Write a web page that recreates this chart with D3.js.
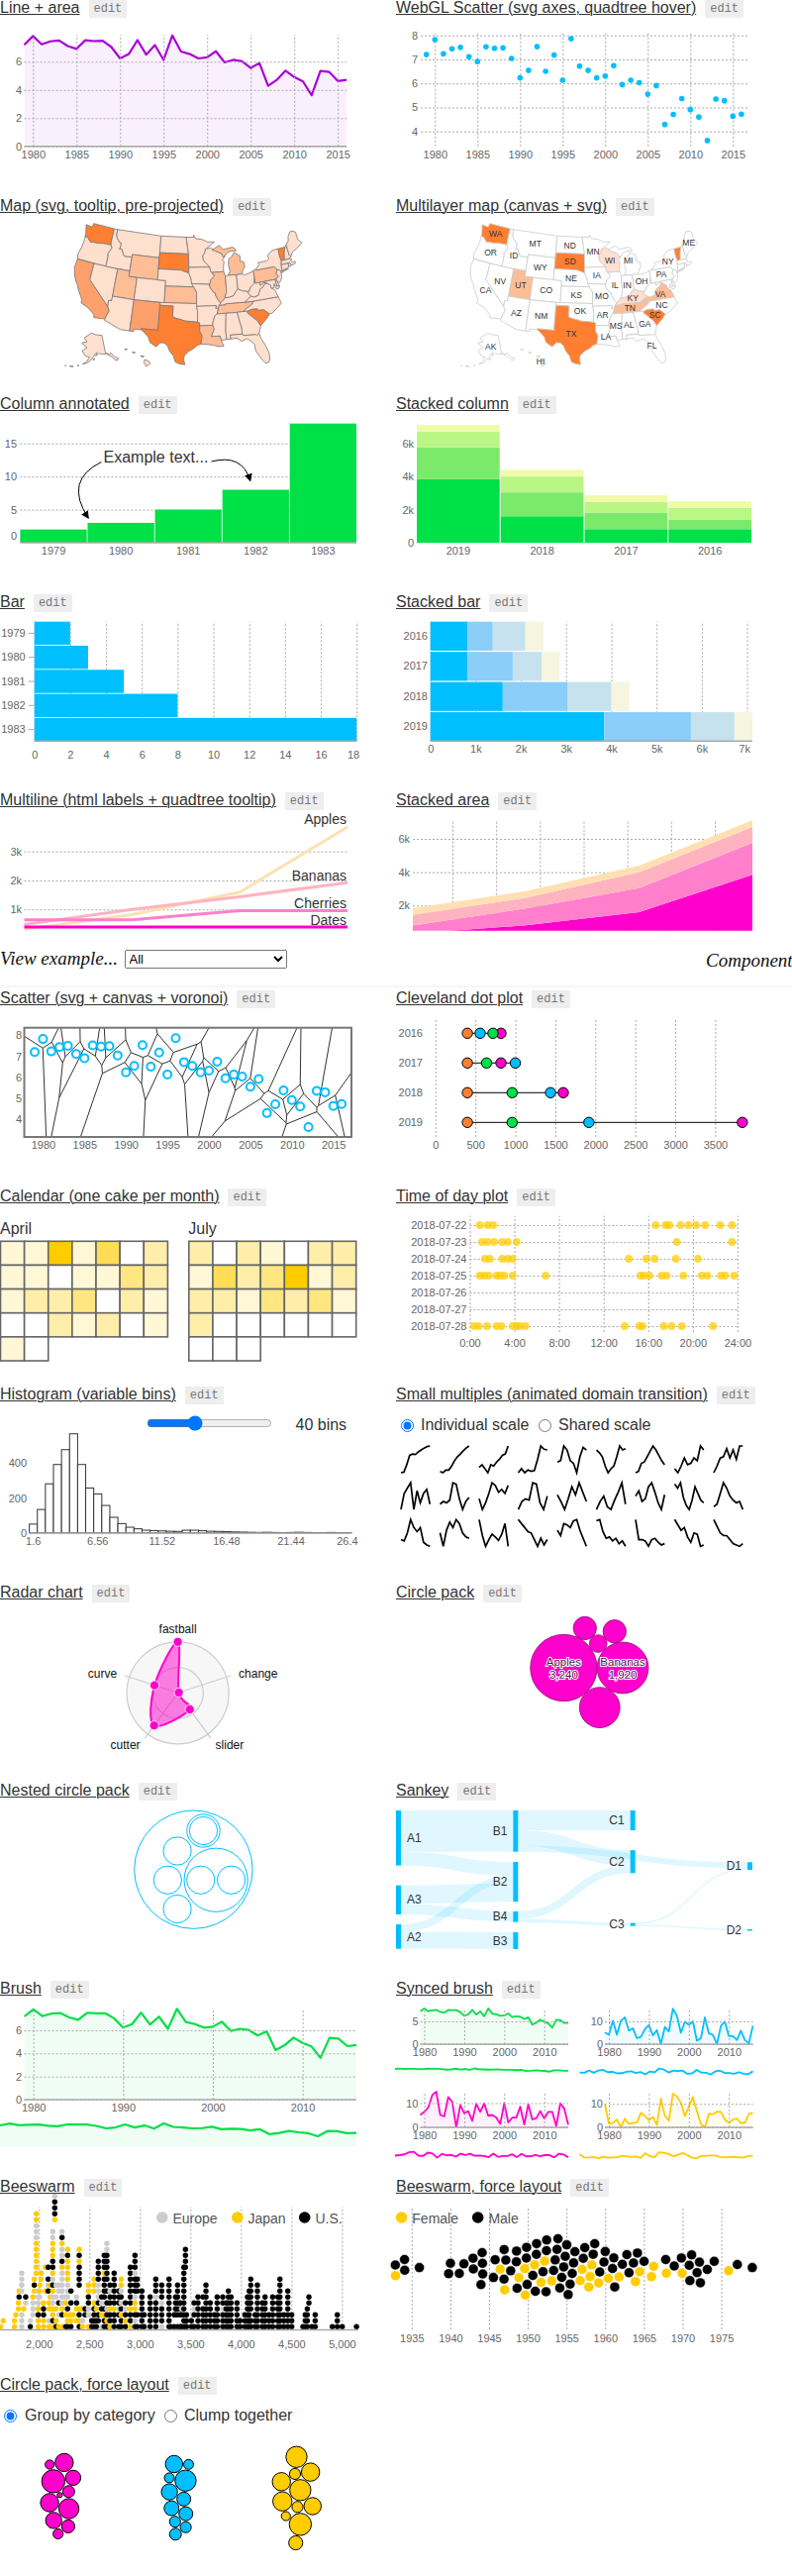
<!DOCTYPE html>
<html>
<head>
<meta charset="utf-8">
<script src="https://cdn.jsdelivr.net/npm/d3@7"></script>
<style>
  html, body { margin: 0; padding: 0; background: #fff; overflow: hidden; }
  body { position: relative; width: 800px; height: 2601px; font-family: "Liberation Sans", sans-serif; color: #333; }
  svg { position: absolute; left: 0; top: 0; }
  .title { position: absolute; font-size: 16px; line-height: 18px; white-space: nowrap; color: #333; }
  .title u { text-decoration-thickness: 1px; }
  .edit { display: inline-block; position: relative; top: 1px; margin-left: 9px; padding: 0 5px; background: #eee; color: #777; font: 12px/18px "Liberation Mono", monospace; vertical-align: top; }
  .label { position: absolute; font-size: 16px; line-height: 18px; white-space: nowrap; color: #333; }
  .script { position: absolute; font: italic 19px/24px "Liberation Serif", serif; color: #111; white-space: nowrap; }
  input[type=radio] { position: absolute; margin: 0; }
  .axis text { font: 11px "Liberation Sans", sans-serif; fill: #666; }
  .axis line { stroke: #aaa; stroke-dasharray: 2; }
  .ylab line { stroke-dasharray: none; }
  .legend { font: 14px "Liberation Sans", sans-serif; fill: #555; }
</style>
</head>
<body>
<script>
// --- data ---
var years = d3.range(1979, 2017);
var arcticValues = [7.2,7.82,7.23,7.44,7.5,7.11,6.91,7.52,7.46,7.48,7.04,6.23,6.54,7.53,6.5,7.18,6.13,7.86,6.72,6.54,6.23,6.31,6.74,5.95,6.13,6.03,5.55,5.91,4.29,4.71,5.37,4.91,4.6,3.62,5.35,5.28,4.63,4.72];
var blueValues = [5.1,4.1,10.3,4.1,10.3,11.8,5.9,7,2.6,3.2,6.6,8.4,3.8,6.2,0,7.6,5.6,15.6,12.5,5,9.9,8.5,10,1.5,2.6,11.8,4.7,4.1,0,8,9.9,3.5,3.5,1.8,5.9,1.8,0.4,8.1];
var magentaValues = [5.1,6.4,8.2,13.3,14.7,5.1,4.5,12.5,10.5,0,9.2,5.8,6.7,2.7,9.7,6.4,9.9,4.8,5.1,4.1,1.4,10,2,4,4,8.5,1.2,9.5,3.3,3.7,6.7,3.6,6.4,6.4,0.5,9.9,7.7,1.1];
var yellowValues = [10,1.6,1.9,3.3,0,3.7,1.5,1.9,2.2,6.2,4.9,3,4.5,1,12.3,4.9,2.9,14.4,13.2,10.5,4.8,8.8,12.9,7,1.4,0.1,5.8,5.6,6.7,6.6,3.3,2,3.3,3.8,1.8,2,5.8,6];

var columnYears = [1979,1980,1981,1982,1983];
var columnValues = [2,3,5,8,18];

var stackKeys = ["apples","bananas","cherries","dates"];
var stackYears = [2019,2018,2017,2016];
var stackApples = [3840,1600,820,820];
var stackBananas = [1920,1440,1000,560];
var stackCherries = [960,960,640,720];
var stackDates = [400,400,400,400];

var fruitSteps = [0,1,2,3];
var applesLine = [320,820,1600,3840];
var bananasLine = [480,1000,1440,1920];
var cherriesLine = [640,640,960,960];
var datesLine = [400,400,400,400];

var aprilCounts = [[1,1,6,1,4,0,2],[1,1,0,1,1,3,2],[1,2,2,3,0,2,1],[0,0,2,1,2,0,1],[1,0]];
var julyCounts = [[2,0,2,1,0,2,2],[1,4,2,3,6,1,2],[2,2,1,3,2,3,1],[2,0,0,0,0,0,0],[0,0,0]];

var dayLabels = ["2018-07-22","2018-07-23","2018-07-24","2018-07-25","2018-07-26","2018-07-27","2018-07-28"];
var dayHours = [
  [0.9,1.6,2.1,16.66,17.56,17.9,18.9,19.6,20.3,21.1,22.45,23.5],
  [1.1,1.6,2.2,2.9,3.4,4.2,18.56,23.5],
  [1.36,1.8,2.9,3.4,3.85,14.26,15.84,16.57,18.47,20.46],
  [0.9,1.3,1.7,2.4,2.7,3.1,3.85,6.8,15.3,15.6,16.1,17.2,17.65,19.15,20.8,21.3,22.5,22.9,23.7],
  [],
  [],
  [0.36,0.8,1.54,2.4,2.85,3.85,4.2,4.5,5,13.9,15.2,15.5,17.4,18.1,19,21.8]
];

var histCounts = [50,134,281,392,477,568,392,257,223,157,89,53,32,23,15,13,11,9,8,15,15,12,9,8,7,5,4,3,2,3,2,1,2,3,2,1,1,2,1,1];
var histTicks = [[0,"1.6"],[8,"6.56"],[16,"11.52"],[24,"16.48"],[32,"21.44"],[39,"26.4"]];

var multiples = [
  [0,2,30,65,70,68,78,85,92,98,100],[5,0,10,10,25,45,60,70,82,92,100],[20,30,15,0,30,25,40,50,65,70,100],
  [0,15,0,10,5,8,50,100,88,85],[40,45,100,85,45,35,0,60,95,85],[85,75,60,25,0,15,25,60,100,85,90],
  [0,5,35,40,60,80,100,85,65,45,30],[15,0,25,55,30,35,55,45,100,85],[0,25,55,60,90,55,85,50,100,100],
  [0,60,80,100,0,70,25,60,75,20],[20,30,25,35,100,95,40,0,30,45],[40,0,25,60,100,90,65,75,60,90],
  [0,30,40,35,100,95,25,0,50],[55,30,0,40,85,55,100,65,30],[0,30,50,10,0,35,65,100,20],
  [50,70,30,40,85,100,65,25,0,55],[95,80,100,45,15,0,35,85,60,35,25],[10,20,60,100,80,50,35,25,30,0],
  [25,20,50,100,70,55,70,15,5,0],[50,0,60,90,70,100,85,50,35,30],[100,40,0,25,45,35,22,45,85,0],
  [100,85,70,55,50,25,0,30,5,25],[60,40,85,80,70,95,100,60,30,0],[95,100,55,30,35,20,30,10,20,0],
  [100,25,25,20,0,25,30,15,5,10],[100,80,60,70,35,15,50,45,0,5],[100,75,50,40,40,25,10,5,0,10]
];

var radarAxes = ["fastball","change","slider","cutter","curve"];
var radarValues = [1,0.02,0.4,0.79,0.48];

var packFruit = [["Apples",3240],["Bananas",1920],["Cherries",1190],["Dates",225],["Eggs",390],["Figs",390]];
// 0 is a lone leaf, a list is a group of leaves
var nestedGroups = [0,[40,40],0,0,[40]];

var sankeyLinks = [["A1","B1",27],["A1","B2",9],["A2","B2",5],["A2","B3",11],["A3","B2",12],["A3","B4",7],["B1","C1",13],["B1","C2",10],["B1","D1",4],["B4","C2",5],["B4","C3",2],["C3","D1",1],["C3","D2",1]];
var sankeyColumns = [["A1","A3","A2"],["B1","B2","B4","B3"],["C1","C2","C3"],["D1","D2"]];
var sankeyTops = {A1:0,A3:49,A2:74.5,B1:0,B2:33.7,B4:66,B3:79.7,C1:0,C2:26,C3:73.6,D1:33.9,D2:77.7};

// year, stack read bottom to top: E(urope) J(apan) U(.S.), "." is an empty slot
var swarmStacks = [[1621,"J"],[1647,".J"],[1758,"JJ"],[1771,"..J"],[1797,"...JJ"],[1804,".....UJ"],[1830,"EEE...EEEE"],[1850,"...J"],[1869,"....EU"],[1915,"UE"],[1941,"..EEEJ"],[1954,"......JUJ"],[1974,".........JJJJJJEEEJJ"],[1993,"JJUJEEE"],[2007,".....EJJ"],[2023,"........JJ"],[2046,"JJUUJ"],[2065,"......J...J"],[2092,"......UEU.U"],[2101,"JE.JJ"],[2111,"...J.J.J"],[2137,"JUJJEEJUEJUUJJJEE"],[2157,"..................JUUUE"],[2170,"UJ.J.E.E"],[2196,"J.E.U.EE"],[2229,"J.UJEEEEEEJUEEJUE"],[2265,"U.J.JE"],[2284,"UJJU.EEEJJJJUJ"],[2317,"UJJ.U.U"],[2340,"..J"],[2373,".J.JUE"],[2399,"UJUJ...UUUUJUJ"],[2431,"JE.J"],[2457,"..UU"],[2490,"J.EEUUJJ"],[2523,"UU"],[2546,"UUUUJ.JJJ"],[2569,"UU.J"],[2588,".UU.UEEEUUUU"],[2621,"E.JUEU"],[2647,"UUJU.UUUUJUUU"],[2673,"UJUEU.U.UUUUUEE"],[2703,"JUUJUUEU"],[2745,"UUUJUUUUUU"],[2791,"U.UEUUU"],[2814,"UUJUEUEJJ"],[2856,"UJUEU"],[2905,"JUUJUUUUUUU"],[2951,"UEUJJEUUUEUUU"],[2974,"U.U...UUU"],[3020,"UUUUUUU"],[3042,"U.U"],[3101,"UUUUUU"],[3157,"UUUUUEUUU"],[3216,"EUUUEUUU"],[3288,"UUUUUUUUU"],[3307,"U"],[3340,"U.U"],[3353,"..UUUU"],[3373,"U.UUUUUU"],[3399,"U.UUU"],[3412,"U.UE"],[3435,"UUUUUUUUUUU"],[3451,"U.........UUUU"],[3461,"UUU"],[3510,"UU"],[3536,"U.UEU"],[3575,"UUUUUU"],[3624,"UUUU.U"],[3654,"UUUUUUUU"],[3696,"UUUUU"],[3739,"UUU"],[3765,"UUUUUU"],[3820,"UUUEUU"],[3853,"UUUUU"],[3876,"UUUUUUU"],[3902,"UUUUUU"],[3961,"UUUUU"],[3990,"UU"],[4039,"UUU"],[4065,"UUUUUU"],[4082,"UUUUUUU"],[4098,"UU.UUUUUU"],[4141,"UUU"],[4163,"UUUUUUUU"],[4212,"UUUUU"],[4239,"UUUUUU"],[4278,"UUU"],[4314,"UUUUUU"],[4366,"UUUUUU"],[4386,"UUUUUUUUU"],[4425,"UUU"],[4464,"UUUUUUU"],[4503,"UUU"],[4614,"U"],[4637,"UUU"],[4657,"UUUU"],[4673,"....UU"],[4703,"U"],[4735,"UUU"],[4905,"U"],[4954,"UUU"],[5003,"U"],[5144,"U"]];

var birthYears =   [1933,1934,1936,1940,1941,1942,1943,1944,1946,1947,1948,1949,1950,1951,1952,1953,1954,1955,1956,1957,1958,1959,1960,1961,1962,1963,1964,1965,1966,1968,1969,1970,1971,1972,1973,1974,1976,1977,1979];
var maleCounts =   [1,2,1,2,1,1,2,4,2,3,1,3,3,4,4,0,6,6,2,2,2,1,2,3,1,2,2,1,0,1,1,1,3,3,1,1,0,1,1];
var femaleCounts = [1,0,0,0,0,0,0,0,0,2,0,1,2,1,2,1,0,0,0,2,3,1,1,0,1,0,2,0,2,1,0,1,0,0,0,0,1,0,0];

// top to bottom in each cluster
var clusterSizes = [
  [21,85,137,59,36,7,85,104,67,44,26],
  [76,25,25,114,67,49,56,49,31,31,36],
  [114,85,31,114,85,76,94,31,21,125,50]
];

var mapDark = ["WA","SD","TX","SC","VT"];
var mapBig = ["CA","NM"];
var mapMid = ["WY","KS","UT","PA","IL","LA","TN","MI"];
var layerMid = ["UT","TN","VA"];
var layerLight = ["WI","KY"];
var unlabeled = ["VT","NH","MA","RI","CT","NJ","DE","MD","WV"];

// rough state outlines, lon/lat
var stateShapes = {
WA:[[[-124.7,48.4],[-123,48.3],[-122.8,49],[-117.03,49],[-117.04,46.4],[-116.92,45.99],[-119,45.93],[-120.5,45.7],[-121.5,45.7],[-122.3,45.55],[-122.8,45.9],[-123.4,46.25],[-124.05,46.27],[-124.1,46.9]]],
OR:[[[-124.05,46.27],[-123.4,46.25],[-122.8,45.9],[-122.3,45.55],[-121.5,45.7],[-120.5,45.7],[-119,45.93],[-116.92,45.99],[-116.5,45.5],[-116.9,44.9],[-117.2,44.4],[-117.03,43.8],[-117.03,42],[-124.21,42],[-124.5,42.85],[-124.1,44.2],[-123.95,45.5]]],
CA:[[[-124.21,42],[-120,42],[-120,39],[-114.63,35],[-114.14,34.3],[-114.5,33.5],[-114.72,32.72],[-117.12,32.53],[-117.3,33.1],[-118.4,33.75],[-119.2,34.15],[-120.6,34.55],[-120.65,35.2],[-121.9,36.6],[-122.5,37.5],[-123,38],[-123.75,39],[-124.35,40.4]]],
NV:[[[-120,42],[-114.04,42],[-114.04,36.2],[-114.75,36.1],[-114.63,35],[-120,39]]],
ID:[[[-117.03,49],[-116.05,49],[-116.05,47.97],[-115.7,47.45],[-114.7,46.7],[-114.35,46.65],[-114.5,45.55],[-113.9,45.65],[-113.45,44.95],[-113,44.45],[-111.5,44.55],[-111.05,44.48],[-111.05,42],[-117.03,42],[-117.03,43.8],[-117.2,44.4],[-116.9,44.9],[-116.5,45.5],[-116.92,45.99],[-117.04,46.4]]],
MT:[[[-116.05,49],[-104.05,49],[-104.05,45],[-111.05,45],[-111.05,44.48],[-111.5,44.55],[-113,44.45],[-113.45,44.95],[-113.9,45.65],[-114.5,45.55],[-114.35,46.65],[-114.7,46.7],[-115.7,47.45],[-116.05,47.97]]],
WY:[[[-111.05,45],[-104.05,45],[-104.05,41],[-111.05,41]]],
UT:[[[-114.04,42],[-111.05,42],[-111.05,41],[-109.05,41],[-109.05,37],[-114.04,37]]],
CO:[[[-109.05,41],[-102.05,41],[-102.05,37],[-109.05,37]]],
AZ:[[[-114.04,37],[-109.05,37],[-109.05,31.33],[-111.07,31.33],[-114.81,32.5],[-114.72,32.72],[-114.5,33.5],[-114.14,34.3],[-114.63,35],[-114.75,36.1],[-114.04,36.2]]],
NM:[[[-109.05,37],[-103,37],[-103.04,32],[-106.62,32],[-106.53,31.78],[-108.2,31.78],[-108.2,31.33],[-109.05,31.33]]],
ND:[[[-104.05,49],[-97.23,49],[-96.56,45.94],[-104.05,45.94]]],
SD:[[[-104.05,45.94],[-96.56,45.94],[-96.45,43.5],[-96.45,42.49],[-98.5,43],[-104.05,43]]],
NE:[[[-104.05,43],[-98.5,43],[-96.45,42.49],[-95.9,41.4],[-95.3,40],[-102.05,40],[-102.05,41],[-104.05,41]]],
KS:[[[-102.05,40],[-95.3,40],[-94.62,39.1],[-94.62,37],[-102.05,37]]],
OK:[[[-103,37],[-94.62,37],[-94.43,35.4],[-94.48,33.64],[-96,33.8],[-97.2,33.85],[-98.1,34.1],[-99.2,34.3],[-100,34.56],[-100,36.5],[-103,36.5]]],
TX:[[[-106.62,32],[-103.04,32],[-103,36.5],[-100,36.5],[-100,34.56],[-99.2,34.3],[-98.1,34.1],[-97.2,33.85],[-96,33.8],[-94.48,33.64],[-94.04,33.55],[-94.04,32],[-93.55,31.2],[-93.84,29.7],[-94.7,29.4],[-95.4,28.9],[-96.4,28.4],[-97.3,27.6],[-97.4,26.8],[-97.15,25.96],[-98.2,26.05],[-99.1,26.4],[-99.5,27.5],[-100.3,28.3],[-100.8,29.25],[-101.5,29.77],[-102.4,29.77],[-103.15,28.98],[-104.5,29.65],[-105,30.65],[-106.53,31.78]]],
MN:[[[-97.23,49],[-95.15,49],[-95.15,49.38],[-94.6,48.72],[-93,48.6],[-91.5,48.07],[-89.6,48],[-92.1,46.75],[-92.3,46.1],[-92.85,45.6],[-92.75,44.75],[-91.2,43.5],[-96.45,43.5],[-96.56,45.94]]],
IA:[[[-96.45,43.5],[-91.2,43.5],[-91.05,42.7],[-90.15,41.8],[-91.1,41.2],[-91.42,40.38],[-95.77,40.58],[-95.9,41.4],[-96.45,42.49]]],
MO:[[[-95.77,40.58],[-91.42,40.38],[-91.5,40],[-90.7,39],[-90.15,38.75],[-90.2,38.4],[-89.5,37.3],[-89.1,36.95],[-89.5,36.5],[-89.7,36],[-90.37,36],[-90.15,36.5],[-94.62,36.5],[-94.62,39.1],[-95.3,40]]],
AR:[[[-94.62,36.5],[-90.15,36.5],[-90.37,36],[-89.7,36],[-90.1,35],[-90.6,34.7],[-91.15,33.5],[-91.17,33],[-94.04,33],[-94.04,33.55],[-94.48,33.64],[-94.43,35.4]]],
LA:[[[-94.04,33],[-91.17,33],[-90.9,32.3],[-91.6,31],[-89.73,31],[-89.55,30.2],[-89.4,29.8],[-89.1,29.1],[-90.2,29.1],[-91.3,29.4],[-92.2,29.55],[-93.84,29.7],[-93.55,31.2],[-94.04,32]]],
WI:[[[-92.1,46.75],[-90.8,46.95],[-89,46.15],[-88,45.8],[-87.6,45.1],[-87.1,45.25],[-87.9,44.6],[-87.5,44.3],[-87.8,43.2],[-87.8,42.49],[-90.65,42.5],[-91.05,42.7],[-91.2,43.5],[-92.75,44.75],[-92.85,45.6],[-92.3,46.1]]],
IL:[[[-90.65,42.5],[-87.8,42.49],[-87.53,41.7],[-87.53,39.35],[-87.6,38.7],[-88.05,37.8],[-88.45,37.4],[-89.1,36.95],[-89.5,37.3],[-90.2,38.4],[-90.15,38.75],[-90.7,39],[-91.5,40],[-91.42,40.38],[-91.1,41.2],[-90.15,41.8]]],
MI:[[[-86.8,41.76],[-84.8,41.7],[-83.45,41.73],[-83.1,42.3],[-82.45,43],[-82.6,43.9],[-83.4,44],[-83.3,45],[-84.7,45.75],[-85.5,45],[-86.25,44.7],[-86.5,43.6],[-86.25,42.5]],[[-90.4,46.55],[-88.4,47.3],[-87.5,46.5],[-85,46.75],[-84.4,46.5],[-84.1,46],[-85.5,46.05],[-86.5,45.8],[-87.6,45.1],[-88,45.8],[-89,46.15]]],
IN:[[[-87.53,41.7],[-86.8,41.76],[-84.8,41.7],[-84.82,39.1],[-85.4,38.7],[-86,38],[-87.1,37.8],[-88.05,37.8],[-87.6,38.7],[-87.53,39.35]]],
OH:[[[-84.8,41.7],[-83.45,41.73],[-82.7,41.5],[-81.3,41.75],[-80.52,42],[-80.52,40.64],[-80.8,39.7],[-81.7,39.2],[-82.2,38.6],[-82.6,38.45],[-83.7,38.65],[-84.82,39.1]]],
KY:[[[-89.5,36.5],[-88.07,36.5],[-88.05,36.68],[-83.68,36.6],[-81.97,37.53],[-82.6,38.17],[-82.6,38.45],[-83.7,38.65],[-84.82,39.1],[-85.4,38.7],[-86,38],[-87.1,37.8],[-88.05,37.8],[-88.45,37.4],[-89.1,36.95]]],
TN:[[[-90.1,35],[-89.7,36],[-89.5,36.5],[-88.07,36.5],[-88.05,36.68],[-83.68,36.6],[-81.68,36.59],[-82,36.1],[-84.32,35],[-85.6,34.98]]],
MS:[[[-91.15,33.5],[-90.6,34.7],[-90.1,35],[-88.2,35],[-88.1,34.9],[-88.47,31.9],[-88.4,30.3],[-89.55,30.2],[-89.73,31],[-91.6,31],[-90.9,32.3],[-91.17,33]]],
AL:[[[-88.2,35],[-85.6,34.98],[-85.18,32.87],[-85,32.3],[-85,31],[-87.6,31],[-87.5,30.3],[-88.4,30.3],[-88.47,31.9],[-88.1,34.9]]],
GA:[[[-85.6,34.98],[-83.1,35],[-83.35,34.7],[-81.4,33],[-80.85,32.03],[-81.45,30.72],[-82,30.4],[-82.2,30.57],[-84.86,30.7],[-85,31],[-85,32.3],[-85.18,32.87]]],
FL:[[[-87.5,30.3],[-87.6,31],[-85,31],[-84.86,30.7],[-82.2,30.57],[-82,30.4],[-81.45,30.72],[-81.25,29.8],[-80.55,28.4],[-80.03,26.8],[-80.15,25.7],[-80.45,25.2],[-81.1,25.15],[-81.8,26.1],[-82.7,27.7],[-82.75,28.9],[-83.6,29.7],[-84.2,30.05],[-85.3,29.7],[-86.3,30.4]]],
SC:[[[-83.35,34.7],[-83.1,35],[-82.3,35.2],[-81,35.15],[-80.8,34.82],[-79.68,34.8],[-78.55,33.86],[-79.2,33.2],[-80.85,32.03],[-81.4,33]]],
NC:[[[-84.32,35],[-82,36.1],[-81.68,36.59],[-75.87,36.55],[-75.5,35.3],[-76.5,34.7],[-77.9,33.9],[-78.55,33.86],[-79.68,34.8],[-80.8,34.82],[-81,35.15],[-82.3,35.2],[-83.1,35]]],
VA:[[[-83.68,36.6],[-81.68,36.59],[-75.87,36.55],[-76,37],[-76.3,37.9],[-77,38.3],[-77.05,38.85],[-77.7,39.3],[-78.3,39.4],[-78.9,38.8],[-79.65,38.55],[-80.3,37.5],[-81.3,37.3],[-81.97,37.53]]],
WV:[[[-81.97,37.53],[-81.3,37.3],[-80.3,37.5],[-79.65,38.55],[-78.9,38.8],[-78.3,39.4],[-77.7,39.3],[-78.4,39.6],[-79.48,39.2],[-79.48,39.72],[-80.52,39.72],[-80.52,40.64],[-80.8,39.7],[-81.7,39.2],[-82.2,38.6],[-82.6,38.17]]],
PA:[[[-80.52,42],[-79.76,42.25],[-79.76,42],[-75.35,42],[-74.7,41.36],[-75.1,40.9],[-75.2,40.7],[-74.73,40.15],[-75.42,39.8],[-75.79,39.72],[-80.52,39.72]]],
NY:[[[-79.76,42.25],[-78.9,42.85],[-79.05,43.27],[-76.8,43.3],[-76.2,43.55],[-76.3,44.2],[-75,44.95],[-73.34,45],[-73.4,43.6],[-73.25,42.75],[-73.5,42.05],[-73.65,41],[-73.95,41],[-74.7,41.36],[-75.35,42],[-79.76,42]],[[-74,40.6],[-72,41.05],[-73.7,40.9]]],
VT:[[[-73.34,45],[-71.5,45],[-72.05,44],[-72.46,42.73],[-73.25,42.75],[-73.4,43.6]]],
NH:[[[-71.5,45],[-71.08,45.3],[-70.98,43.4],[-70.7,43.05],[-71.2,42.75],[-72.46,42.73],[-72.05,44]]],
ME:[[[-71.08,45.3],[-70.3,45.9],[-70,46.7],[-69.2,47.45],[-68.3,47.35],[-67.8,47.07],[-67.8,45.7],[-67,44.85],[-68.5,44.25],[-70,43.75],[-70.7,43.05],[-70.98,43.4]]],
MA:[[[-73.5,42.05],[-73.25,42.75],[-72.46,42.73],[-71.2,42.75],[-70.7,42.65],[-71,42.25],[-70.6,41.95],[-70.05,42.05],[-69.95,41.7],[-70.65,41.55],[-71.15,41.5],[-71.38,42.02],[-71.8,42.02]]],
RI:[[[-71.8,42.02],[-71.38,42.02],[-71.15,41.5],[-71.85,41.32]]],
CT:[[[-73.5,42.05],[-71.8,42.02],[-71.85,41.32],[-73.65,41]]],
NJ:[[[-74.7,41.36],[-73.95,41],[-74,40.5],[-74.1,39.75],[-74.9,38.95],[-75.5,39.5],[-75.42,39.8],[-74.73,40.15],[-75.2,40.7],[-75.1,40.9]]],
DE:[[[-75.79,39.72],[-75.42,39.8],[-75.5,39.5],[-75.05,38.45],[-75.7,38.46]]],
MD:[[[-79.48,39.72],[-75.79,39.72],[-75.7,38.46],[-75.05,38.45],[-75.25,38.03],[-75.9,37.95],[-76.2,39],[-76.4,38.3],[-77,38.3],[-77.05,38.85],[-77.7,39.3],[-78.4,39.6],[-79.48,39.2]]],
AK:[[[-141,69.65],[-141,60.3],[-139,60],[-137.5,58.9],[-135.5,59.8],[-133,57],[-130,55.9],[-131.5,55],[-133.5,55.5],[-135.5,57.5],[-137,58.3],[-140,59.7],[-144,60],[-148,60.5],[-151.5,59.2],[-150,61.2],[-152.5,60],[-154,58.7],[-157,56.8],[-160,55.5],[-163.5,54.8],[-160.5,56],[-157.5,58.7],[-161.5,59],[-165,60.8],[-166,61.7],[-161,63.5],[-165,64.5],[-168,65.6],[-162,66.5],[-166.5,68.3],[-156.5,71.3],[-150,70.4]],[[-166.5,53.9],[-167.5,53.4],[-168,53.6]],[[-171,52.6],[-174,52.1],[-174,52.4]],[[-177,51.9],[-178,51.7],[-177.5,52]],[[-154.5,57.4],[-152.5,57.5],[-153,58.2]]],
HI:[[[-155.9,20.2],[-155.1,19.9],[-154.8,19.5],[-155.6,18.95],[-156.05,19.7]],[[-156.7,20.9],[-156,20.8],[-156.4,20.58]],[[-158.3,21.55],[-157.7,21.5],[-158,21.3]],[[-159.8,22.1],[-159.3,22.1],[-159.5,21.9]]]
};

var chartTitles = [
  ["Line + area","WebGL Scatter (svg axes, quadtree hover)"],
  ["Map (svg, tooltip, pre-projected)","Multilayer map (canvas + svg)"],
  ["Column annotated","Stacked column"],
  ["Bar","Stacked bar"],
  ["Multiline (html labels + quadtree tooltip)","Stacked area"],
  ["Scatter (svg + canvas + voronoi)","Cleveland dot plot"],
  ["Calendar (one cake per month)","Time of day plot"],
  ["Histogram (variable bins)","Small multiples (animated domain transition)"],
  ["Radar chart","Circle pack"],
  ["Nested circle pack","Sankey"],
  ["Brush","Synced brush"],
  ["Beeswarm","Beeswarm, force layout"],
  ["Circle pack, force layout",null]
];

// --- page furniture ---
var body = d3.select("body");
chartTitles.forEach(function(row, i) {
  row.forEach(function(t, j) {
    if (!t) return;
    var d = body.append("div").attr("class", "title")
      .style("left", (j * 400) + "px").style("top", (i * 200 - 1) + "px");
    d.append("u").text(t);
    d.append("span").attr("class", "edit").text("edit");
  });
});

function label(txt, x, y) {
  body.append("div").attr("class", "label").style("left", x + "px").style("top", (y - 9) + "px").text(txt);
}
function radio(x, y, name, checked) {
  var r = body.append("input").attr("type", "radio").attr("name", name)
    .style("left", (x - 6.5) + "px").style("top", (y - 6.5) + "px");
  if (checked) r.attr("checked", "checked");
}

body.append("div").attr("class", "script").style("left", "0px").style("top", "956px").text("View example...");
body.append("div").attr("class", "script").style("left", "713px").style("top", "958px").text("Component");
var sel = body.append("select").style("position", "absolute").style("left", "125.5px").style("top", "959px")
  .style("width", "164px").style("height", "19px").style("font", "13px 'Liberation Sans'");
sel.append("option").text("All");

var svg = body.append("svg").attr("width", 800).attr("height", 2601);
svg.lower();
svg.append("line").attr("x1", 0).attr("x2", 800).attr("y1", 996).attr("y2", 996).attr("stroke", "#fbe6f2");

// --- helpers ---
var yearFmt = d3.format("d");
var kFmt = function(d) { return d === 0 ? "0" : (d / 1000) + "k"; };

function bottomAxis(scale, ticks, baseY, topY, labelY, fmt) {
  var g = svg.append("g").attr("class", "axis").attr("transform", "translate(0," + baseY + ")")
    .call(d3.axisBottom(scale).tickValues(ticks).tickFormat(fmt || yearFmt));
  g.select(".domain").remove();
  g.selectAll("line").attr("y2", topY - baseY);
  g.selectAll("text").attr("y", labelY - baseY).attr("dy", ".32em");
  return g;
}
function leftAxis(scale, ticks, x0, x1, labelX, fmt) {
  var g = svg.append("g").attr("class", "axis").attr("transform", "translate(" + x0 + ",0)")
    .call(d3.axisLeft(scale).tickValues(ticks).tickFormat(fmt || yearFmt));
  g.select(".domain").remove();
  g.selectAll("line").attr("x2", x1 - x0);
  g.selectAll("text").attr("x", labelX - x0);
  return g;
}
function baseline(x0, x1, y) {
  svg.append("line").attr("x1", x0).attr("x2", x1).attr("y1", y).attr("y2", y).attr("stroke", "#aaa").attr("stroke-width", 1.5);
}
function lineArea(xs, ys, values, color, bottom, fillOpacity, w) {
  var area = d3.area().x(function(d, i) { return xs(years[i]); }).y0(bottom).y1(function(d) { return ys(d); });
  var line = d3.line().x(function(d, i) { return xs(years[i]); }).y(function(d) { return ys(d); });
  svg.append("path").attr("d", area(values)).attr("fill", color).attr("opacity", fillOpacity);
  svg.append("path").attr("d", line(values)).attr("fill", "none").attr("stroke", color).attr("stroke-width", w).attr("stroke-linejoin", "round");
}

var green = "#00e047", blue = "#00bfff", magenta = "#ff00cc", yellow = "#ffcc00", orange = "#ff7f32", purple = "#ab00d6";

// --- line + area ---
(function() {
  var x = d3.scaleLinear().domain([1979, 2016]).range([24.5, 350]);
  var y = d3.scaleLinear().domain([0, 6]).range([147.8, 62.3]);
  lineArea(x, y, arcticValues, purple, y(0), 0.06, 2.2);
  bottomAxis(x, d3.range(1980, 2016, 5), 147.8, 35, 156);
  leftAxis(y, [0, 2, 4, 6], 24.5, 350, 22);
  baseline(24.5, 350, 147.8);
})();

// --- webgl scatter ---
(function() {
  var x = d3.scaleLinear().domain([1980, 2015]).range([439.3, 740.3]);
  var y = d3.scaleLinear().domain([4, 8]).range([132.7, 35.7]);
  bottomAxis(x, d3.range(1980, 2016, 5), 147.8, 32, 156);
  leftAxis(y, [4, 5, 6, 7, 8], 425, 755, 422);
  svg.selectAll(".webgl").data(arcticValues).enter().append("circle").attr("class", "webgl")
    .attr("cx", function(d, i) { return x(years[i]); }).attr("cy", function(d) { return y(d); })
    .attr("r", 2.8).attr("fill", blue);
})();

// --- maps ---
var stateFeatures = Object.keys(stateShapes).map(function(id) {
  var f = { type: "Feature", id: id, geometry: { type: "MultiPolygon", coordinates: stateShapes[id].map(function(r) { return [r.concat([r[0]])]; }) } };
  // d3.geo wants clockwise rings
  f.geometry.coordinates.forEach(function(p) {
    if (d3.geoArea({ type: "Polygon", coordinates: p }) > 2 * Math.PI) p[0].reverse();
  });
  return f;
});
function drawMap(ox, colorOf, stroke) {
  var projection = d3.geoAlbersUsa().scale(319).translate([ox + 190, 297]);
  var path = d3.geoPath(projection);
  svg.append("g").selectAll("path").data(stateFeatures).enter().append("path")
    .attr("d", path).attr("fill", colorOf).attr("stroke", stroke).attr("stroke-width", 0.8).attr("stroke-linejoin", "round");
  return path;
}
var map1Color = function(d) {
  if (mapDark.indexOf(d.id) >= 0) return orange;
  if (mapBig.indexOf(d.id) >= 0) return "#ff9f6b";
  if (mapMid.indexOf(d.id) >= 0) return "#ffbd96";
  return "#ffdfcd";
};
var map2Color = function(d) {
  if (mapDark.indexOf(d.id) >= 0) return orange;
  if (layerMid.indexOf(d.id) >= 0) return "#ffbd96";
  if (layerLight.indexOf(d.id) >= 0) return "#ffdfcd";
  return "#fff";
};
drawMap(0, map1Color, "#777");
var path2 = drawMap(400, map2Color, "#ccc");
svg.append("g").selectAll("text").data(stateFeatures.filter(function(d) { return unlabeled.indexOf(d.id) < 0; })).enter().append("text")
  .attr("transform", function(d) { return "translate(" + path2.centroid(d) + ")"; })
  .attr("text-anchor", "middle").attr("dy", ".35em").attr("font-size", 8.5).attr("fill", "#333").text(function(d) { return d.id; });

// --- column annotated ---
(function() {
  var x = d3.scaleBand().domain(columnYears).range([20.4, 360]).paddingInner(0.012);
  var y = d3.scaleLinear().domain([0, 15]).range([548, 447.7]);
  leftAxis(y, [5, 10, 15], 20.4, 360, 17);
  svg.selectAll(".col").data(columnValues).enter().append("rect").attr("class", "col")
    .attr("x", function(d, i) { return x(columnYears[i]); }).attr("width", x.bandwidth())
    .attr("y", function(d) { return y(d); }).attr("height", function(d) { return y(0) - y(d); }).attr("fill", green);
  var g = svg.append("g").attr("class", "axis").attr("transform", "translate(0,548)").call(d3.axisBottom(x).tickSize(0).tickFormat(yearFmt));
  g.select(".domain").remove();
  g.selectAll("text").attr("y", 8).attr("dy", ".32em");
  baseline(20.4, 360, 548);
  svg.append("g").attr("class", "axis").append("text").attr("x", 17).attr("y", 545).attr("text-anchor", "end").text("0");

  svg.append("defs").append("marker").attr("id", "arrow").attr("viewBox", "0 0 10 10").attr("refX", 8).attr("refY", 5)
    .attr("markerWidth", 8).attr("markerHeight", 8).attr("orient", "auto")
    .append("path").attr("d", "M0,0L10,5L0,10Z").attr("fill", "#000");
  svg.append("text").attr("x", 104.5).attr("y", 467).attr("font-size", 16).attr("fill", "#333").text("Example text...");
  var p1 = d3.path(); p1.moveTo(x(1979) + 82, 466.5); p1.quadraticCurveTo(x(1979) + 44, 485, x(1980) + 0.5, 522.7);
  var p2 = d3.path(); p2.moveTo(x(1981) + 57, 466); p2.quadraticCurveTo(x(1982) + 20, 458, x(1982) + 28, 485);
  svg.selectAll(".swoop").data([p1.toString(), p2.toString()]).enter().append("path").attr("class", "swoop")
    .attr("d", function(d) { return d; }).attr("fill", "none").attr("stroke", "#000").attr("stroke-width", 1).attr("marker-end", "url(#arrow)");
})();

// --- stacked column / stacked bar ---
var stackRows = stackYears.map(function(yr, i) {
  return { year: yr, apples: stackApples[i], bananas: stackBananas[i], cherries: stackCherries[i], dates: stackDates[i] };
});
var stackSeries = d3.stack().keys(stackKeys)(stackRows);
(function() {
  var x = d3.scaleBand().domain(stackYears).range([421, 759]).paddingInner(0.012);
  var y = d3.scaleLinear().domain([0, 6000]).range([548, 447.7]);
  var colors = [green, "#7bea6b", "#b9f684", "#f0fba8"];
  leftAxis(y, [0, 2000, 4000, 6000], 421, 421, 418, kFmt);
  svg.selectAll(".scol").data(stackSeries).enter().append("g").attr("class", "scol").attr("fill", function(d, i) { return colors[i]; })
    .selectAll("rect").data(function(d) { return d; }).enter().append("rect")
    .attr("x", function(d) { return x(d.data.year); }).attr("width", x.bandwidth())
    .attr("y", function(d) { return y(d[1]); }).attr("height", function(d) { return y(d[0]) - y(d[1]); });
  var g = svg.append("g").attr("class", "axis").attr("transform", "translate(0,548)").call(d3.axisBottom(x).tickSize(0).tickFormat(yearFmt));
  g.select(".domain").remove();
  g.selectAll("text").attr("y", 8).attr("dy", ".32em");
})();
(function() {
  var x = d3.scaleLinear().domain([0, 7000]).range([434.7, 754.6]);
  var y = d3.scaleBand().domain(stackYears.slice().reverse()).range([627.7, 748.3]).paddingInner(0.04);
  var colors = [blue, "#8bcef9", "#c5e2ee", "#f5f5e0"];
  var gx = bottomAxis(x, d3.range(0, 8000, 1000), 748.3, 627.7, 756, kFmt);
  gx.selectAll("text").filter(function(d) { return d === 7000; }).attr("dx", -3);
  svg.selectAll(".sbar").data(stackSeries).enter().append("g").attr("class", "sbar").attr("fill", function(d, i) { return colors[i]; })
    .selectAll("rect").data(function(d) { return d; }).enter().append("rect")
    .attr("y", function(d) { return y(d.data.year); }).attr("height", y.bandwidth())
    .attr("x", function(d) { return x(d[0]); }).attr("width", function(d) { return x(d[1]) - x(d[0]); });
  var g = svg.append("g").attr("class", "axis").attr("transform", "translate(432,0)").call(d3.axisLeft(y).tickSize(0).tickFormat(yearFmt));
  g.select(".domain").remove();
  g.selectAll("text").attr("x", 0);
  baseline(434.7, 760, 748.3);
})();

// --- bar ---
(function() {
  var x = d3.scaleLinear().domain([0, 18]).range([34.7, 360.2]);
  var y = d3.scaleBand().domain(columnYears).range([627.7, 748.3]).paddingInner(0.035);
  var gx = bottomAxis(x, d3.range(0, 20, 2), 748.3, 627.7, 762);
  gx.selectAll("text").filter(function(d) { return d === 18; }).attr("dx", -3.6);
  svg.selectAll(".bar").data(columnValues).enter().append("rect").attr("class", "bar")
    .attr("y", function(d, i) { return y(columnYears[i]); }).attr("height", y.bandwidth())
    .attr("x", x(0)).attr("width", function(d) { return x(d) - x(0); }).attr("fill", blue);
  var g = svg.append("g").attr("class", "axis ylab").attr("transform", "translate(34.7,0)").call(d3.axisLeft(y).tickSize(6).tickFormat(yearFmt));
  g.select(".domain").remove();
  baseline(34.7, 360.2, 748.3);
})();

// --- multiline ---
(function() {
  var x = d3.scaleLinear().domain([0, 3]).range([24.5, 351]);
  var y = d3.scaleLinear().domain([0, 1000]).range([947.6, 918.3]);
  leftAxis(y, [1000, 2000, 3000], 24.5, 351, 22, kFmt);
  var line = d3.line().x(function(d, i) { return x(fruitSteps[i]); }).y(function(d) { return y(d); });
  var lines = [[applesLine, "#ffe0b3", "Apples", 826.7], [bananasLine, "#ffb3c0", "Bananas", 883.7], [cherriesLine, "#ff7fcc", "Cherries", 911.7], [datesLine, magenta, "Dates", 928.7]];
  lines.forEach(function(l) {
    svg.append("path").attr("d", line(l[0])).attr("fill", "none").attr("stroke", l[1]).attr("stroke-width", 3);
    svg.append("text").attr("x", 350).attr("y", l[3]).attr("dy", ".35em").attr("text-anchor", "end").attr("font-size", 14).attr("fill", "#333").text(l[2]);
  });
})();

// --- stacked area ---
(function() {
  var x = d3.scaleLinear().domain([0, 3]).range([416.8, 760]);
  var y = d3.scaleLinear().domain([0, 6000]).range([948, 847]);
  bottomAxis(d3.scaleLinear().domain([0, 6]).range([457, 722]), d3.range(0, 7), 939.7, 827.7, 939.7, function() { return ""; });
  leftAxis(y, [2000, 4000, 6000], 417, 760, 414, kFmt);
  svg.append("clipPath").attr("id", "areaclip").append("rect").attr("x", 416.8).attr("y", 820).attr("width", 344).attr("height", 119.7);
  var rows = fruitSteps.map(function(s, i) { return { step: s, apples: applesLine[i], bananas: bananasLine[i], cherries: cherriesLine[i], dates: datesLine[i] }; });
  var colors = [magenta, "#ff7fcc", "#ffb3c0", "#ffe0b3"];
  var area = d3.area().x(function(d) { return x(d.data.step); }).y0(function(d) { return y(d[0]); }).y1(function(d) { return y(d[1]); });
  svg.append("g").attr("clip-path", "url(#areaclip)").selectAll("path").data(d3.stack().keys(stackKeys)(rows)).enter().append("path")
    .attr("d", area).attr("fill", function(d, i) { return colors[i]; });
})();

// --- scatter + voronoi ---
(function() {
  var x = d3.scaleLinear().domain([1980, 2015]).range([43.4, 336.7]);
  var y = d3.scaleLinear().domain([4, 8]).range([1130, 1045.3]);
  var box = [24.5, 1037.7, 355, 1148];
  var pts = arcticValues.map(function(d, i) { return [x(years[i]), y(d)]; });
  svg.append("path").attr("d", d3.Delaunay.from(pts).voronoi(box).render()).attr("fill", "none").attr("stroke", "#333").attr("stroke-width", 1);
  svg.append("rect").attr("x", box[0]).attr("y", box[1]).attr("width", box[2] - box[0]).attr("height", box[3] - box[1]).attr("fill", "none").attr("stroke", "#777").attr("stroke-width", 2);
  svg.selectAll(".vor").data(pts).enter().append("circle").attr("class", "vor")
    .attr("cx", function(d) { return d[0]; }).attr("cy", function(d) { return d[1]; }).attr("r", 4)
    .attr("fill", "#fff").attr("stroke", blue).attr("stroke-width", 2);
  var g = bottomAxis(x, d3.range(1980, 2016, 5), 1148, 1148, 1156);
  g.selectAll("line").remove();
  var gy = leftAxis(y, [4, 5, 6, 7, 8], 24.5, 24.5, 22);
  gy.selectAll("line").remove();
})();

// --- cleveland ---
(function() {
  var x = d3.scaleLinear().domain([0, 3500]).range([439.8, 722.4]);
  var y = d3.scalePoint().domain(stackYears.slice().reverse()).range([1043.3, 1133.3]);
  bottomAxis(x, d3.range(0, 4000, 500), 1148, 1028, 1156);
  var gy = svg.append("g").attr("class", "axis").attr("transform", "translate(427,0)").call(d3.axisLeft(y).tickSize(0).tickFormat(yearFmt));
  gy.select(".domain").remove();
  gy.selectAll("text").attr("x", 0);
  stackRows.forEach(function(r) {
    var vals = [r.apples, r.bananas, r.cherries, r.dates];
    svg.append("line").attr("x1", x(d3.min(vals))).attr("x2", x(d3.max(vals))).attr("y1", y(r.year)).attr("y2", y(r.year)).attr("stroke", "#000");
    svg.append("g").selectAll("circle").data(vals).enter().append("circle")
      .attr("cx", function(d) { return x(d); }).attr("cy", y(r.year)).attr("r", 5.2).attr("stroke", "#000")
      .attr("fill", function(d, i) { return [magenta, blue, green, orange][i]; });
  });
})();

// --- calendar ---
(function() {
  var color = d3.scaleLinear().domain([0, 6]).range(["#fff", yellow]);
  [[aprilCounts, 0, "April"], [julyCounts, 190.3, "July"]].forEach(function(m) {
    label(m[2], m[1], 1240.7);
    var x = d3.scaleLinear().domain([0, 7]).range([m[1] + 0.5, m[1] + 169.4]);
    var y = d3.scaleLinear().domain([0, 5]).range([1253.3, 1374]);
    m[0].forEach(function(row, r) {
      svg.append("g").selectAll("rect").data(row).enter().append("rect")
        .attr("x", function(d, i) { return x(i); }).attr("y", y(r)).attr("width", x(1) - x(0)).attr("height", y(1) - y(0))
        .attr("fill", function(d) { return color(d); }).attr("stroke", "#666").attr("stroke-width", 1.6);
    });
  });
})();

// --- time of day ---
(function() {
  var x = d3.scaleLinear().domain([0, 24]).range([474.5, 744.9]);
  var y = d3.scalePoint().domain(dayLabels).range([1237, 1339]);
  bottomAxis(x, d3.range(0, 28, 4), 1345, 1227.7, 1356, function(d) { return d + ":00"; });
  var gy = svg.append("g").attr("class", "axis").attr("transform", "translate(474.5,0)").call(d3.axisLeft(y).tickFormat(String));
  gy.select(".domain").remove();
  gy.selectAll("line").attr("x2", 270.4);
  gy.selectAll("text").attr("x", -3);
  dayHours.forEach(function(hrs, i) {
    svg.append("g").selectAll("circle").data(hrs).enter().append("circle")
      .attr("cx", function(d) { return x(d); }).attr("cy", y(dayLabels[i])).attr("r", 3.9).attr("fill", yellow).attr("opacity", 0.75);
  });
})();

// --- histogram ---
(function() {
  var x = d3.scaleBand().domain(d3.range(40)).range([29.6, 355]);
  var y = d3.scaleLinear().domain([0, 400]).range([1547.7, 1477.3]);
  svg.selectAll(".hist").data(histCounts).enter().append("rect").attr("class", "hist")
    .attr("x", function(d, i) { return x(i); }).attr("width", x.bandwidth())
    .attr("y", function(d) { return y(d); }).attr("height", function(d) { return y(0) - y(d); })
    .attr("fill", "#fff").attr("stroke", "#333").attr("stroke-width", 1);
  var gy = leftAxis(y, [0, 200, 400], 29, 29, 27);
  gy.selectAll("line").remove();
  var gx = svg.append("g").attr("class", "axis").attr("transform", "translate(0,1548)")
    .call(d3.axisBottom(x).tickSize(0).tickValues(histTicks.map(function(t) { return t[0]; }))
      .tickFormat(function(d) { return histTicks.filter(function(t) { return t[0] === d; })[0][1]; }));
  gx.select(".domain").remove();
  gx.selectAll("text").attr("y", 8).attr("dy", ".32em");
  baseline(29.6, 355, 1548);
  body.append("input").attr("type", "range").attr("min", 0).attr("max", 100).attr("value", 37)
    .style("position", "absolute").style("margin", 0).style("left", "148px").style("top", "1429px").style("width", "127px");
  label("40 bins", 298.5, 1439);
})();

// --- small multiples ---
radio(411, 1439, "scale", true);
label("Individual scale", 425, 1439);
radio(550, 1439, "scale", false);
label("Shared scale", 564, 1439);
(function() {
  var col = d3.scaleLinear().domain([0, 8]).range([405, 721]);
  var row = d3.scaleLinear().domain([0, 2]).range([1460, 1534.3]);
  multiples.forEach(function(vals, i) {
    var c = i % 9, r = Math.floor(i / 9);
    var x = d3.scaleLinear().domain([0, vals.length - 1]).range([col(c), col(c) + 29.3]);
    var y = d3.scaleLinear().domain(d3.extent(vals)).range([row(r) + 27, row(r)]);
    var line = d3.line().x(function(d, j) { return x(j); }).y(function(d) { return y(d); });
    svg.append("path").attr("d", line(vals)).attr("fill", "none").attr("stroke", "#000").attr("stroke-width", 1.7);
  });
})();

// --- radar ---
(function() {
  var cx = 179.6, cy = 1709.3;
  var rScale = d3.scaleLinear().domain([0, 1]).range([0, 51.5]);
  var g = svg.append("g").attr("transform", "translate(" + cx + "," + cy + ")");
  g.append("circle").attr("r", rScale(1)).attr("fill", "#f7f7f7").attr("stroke", "#ccc").attr("stroke-width", 1.2);
  g.append("circle").attr("r", rScale(0.5)).attr("fill", "none").attr("stroke", "#ccc").attr("stroke-width", 1.2);
  var angle = function(i) { return i * 2 * Math.PI / radarAxes.length; };
  radarAxes.forEach(function(name, i) {
    var a = angle(i);
    if (i > 0) g.append("line").attr("x2", rScale(1.1) * Math.sin(a)).attr("y2", -rScale(1.1) * Math.cos(a)).attr("stroke", "#ccc").attr("stroke-width", 1.2);
    var s = Math.sin(a);
    g.append("text").attr("x", rScale(1.255) * s).attr("y", -rScale(1.255) * Math.cos(a)).attr("dy", ".35em")
      .attr("text-anchor", Math.abs(s) < 0.01 ? "middle" : (s > 0 ? "start" : "end")).attr("font-size", 12).attr("fill", "#111").text(name);
  });
  var radial = d3.lineRadial().angle(function(d, i) { return angle(i); }).radius(function(d) { return rScale(d); }).curve(d3.curveCardinalClosed);
  g.append("path").attr("d", radial(radarValues)).attr("fill", magenta).attr("fill-opacity", 0.5).attr("stroke", magenta).attr("stroke-width", 2);
  g.selectAll(".rd").data(radarValues).enter().append("circle").attr("class", "rd").attr("r", 4.6).attr("fill", magenta).attr("stroke", "#fff").attr("stroke-width", 0.8)
    .attr("cx", function(d, i) { return rScale(d) * Math.sin(angle(i)); }).attr("cy", function(d, i) { return -rScale(d) * Math.cos(angle(i)); });
})();

// --- circle pack ---
(function() {
  var root = d3.hierarchy({ children: packFruit.map(function(d) { return { name: d[0], value: d[1] }; }) }).sum(function(d) { return d.value; });
  var rScale = d3.scaleSqrt().domain([0, 3240]).range([0, 33.7]);
  d3.pack().radius(function(d) { return rScale(d.value); }).size([120, 120])(root);
  var apples = root.leaves()[0];
  var g = svg.append("g").attr("transform", "translate(" + (569.4 - apples.x) + "," + (1684 - apples.y) + ")");
  g.selectAll("circle").data(root.leaves()).enter().append("circle")
    .attr("cx", function(d) { return d.x; }).attr("cy", function(d) { return d.y; }).attr("r", function(d) { return d.r; })
    .attr("fill", magenta).attr("stroke", "#8a1075").attr("stroke-width", 0.8);
  var big = root.leaves().filter(function(d) { return d.value > 1500; });
  var fmt = d3.format(",");
  big.forEach(function(d) {
    [d.data.name, fmt(d.value)].forEach(function(t, i) {
      g.append("text").attr("x", d.x).attr("y", d.y + (i ? 6.5 : -6.5)).attr("dy", ".35em").attr("text-anchor", "middle")
        .attr("font-size", 11.5).attr("fill", "#5a1050").attr("stroke", "#fff").attr("stroke-width", 2).attr("paint-order", "stroke").text(t);
    });
  });
})();

// --- nested pack ---
(function() {
  var root = d3.hierarchy({ children: nestedGroups.map(function(g) {
    return g === 0 ? { value: 40 } : { children: g.map(function(v) { return { value: v }; }) };
  }) }).sum(function(d) { return d.value; });
  d3.pack().size([119.4, 119.4]).padding(3)(root);
  var g = svg.append("g").attr("transform", "translate(135.7,1828)");
  // flipped so the lone ring sits on top
  g.selectAll("circle").data(root.descendants()).enter().append("circle")
    .attr("cx", function(d) { return d.x; }).attr("cy", function(d) { return 119.4 - d.y; }).attr("r", function(d) { return d.r; })
    .attr("fill", "none").attr("stroke", blue).attr("stroke-width", 1);
})();

// --- sankey, no d3-sankey here so nodes and links are stacked by hand ---
(function() {
  var k = d3.scaleLinear().domain([0, 90.7]).range([1828, 1968]);
  var colX = d3.scalePoint().domain([0, 1, 2, 3]).range([400, 755]);
  var nodes = {};
  sankeyColumns.forEach(function(col, c) { col.forEach(function(n) { nodes[n] = { name: n, col: c, outV: 0, inV: 0 }; }); });
  sankeyLinks.forEach(function(l) { nodes[l[0]].outV += l[2]; nodes[l[1]].inV += l[2]; });
  Object.values(nodes).forEach(function(n) { n.top = sankeyTops[n.name]; n.v = Math.max(n.inV, n.outV); n.so = n.top; n.to = n.top; });
  var link = d3.linkHorizontal();
  sankeyLinks.forEach(function(l) {
    var s = nodes[l[0]], t = nodes[l[1]];
    var y0 = k(s.so + l[2] / 2), y1 = k(t.to + l[2] / 2);
    s.so += l[2]; t.to += l[2];
    svg.append("path").attr("d", link({ source: [colX(s.col) + 5, y0], target: [colX(t.col), y1] }))
      .attr("fill", "none").attr("stroke", blue).attr("stroke-opacity", 0.12).attr("stroke-width", l[2] * (k(1) - k(0)));
  });
  Object.values(nodes).forEach(function(n) {
    svg.append("rect").attr("x", colX(n.col)).attr("y", k(n.top)).attr("width", 5).attr("height", k(n.v) - k(0)).attr("fill", blue);
    svg.append("text").attr("x", n.col === 0 ? colX(n.col) + 11 : colX(n.col) - 6).attr("y", k(n.top + n.v / 2)).attr("dy", ".35em")
      .attr("text-anchor", n.col === 0 ? "start" : "end").attr("font-size", 12).attr("fill", "#333").text(n.name);
  });
})();

// --- brush ---
(function() {
  var x = d3.scaleLinear().domain([1980, 2010]).range([33.7, 305.6]);
  var y = d3.scaleLinear().domain([0, 6]).range([2120, 2050]);
  lineArea(x, y, arcticValues, green, 2120, 0.06, 2.2);
  bottomAxis(x, [1980, 1990, 2000, 2010], 2120, 2028, 2128);
  leftAxis(y, [0, 2, 4, 6], 24.5, 360, 22);
  baseline(24.5, 360, 2120);
  var mx = d3.scaleLinear().domain([1979, 2016]).range([0, 360]);
  var my = d3.scaleLinear().domain([0, 7.86]).range([2168, 2144]);
  lineArea(mx, my, arcticValues, green, 2168, 0.06, 2.2);
})();

// --- synced brush ---
(function() {
  var panels = [
    [arcticValues, green, 424.5, 2064, [0, 5], 2041, 2094.5],
    [blueValues, blue, 611, 2064, [0, 10], 2041, 2094.5],
    [magentaValues, magenta, 424.5, 2148, [0, 10], 2123.5, 2178.6],
    [yellowValues, yellow, 611, 2148, [0, 10], 2124.3, 2179.2]
  ];
  panels.forEach(function(p) {
    var x = d3.scaleLinear().domain([1979, 2016]).range([p[2], p[2] + 149.5]);
    var y = d3.scaleLinear().domain(p[4]).range([p[3], p[5]]);
    lineArea(x, y, p[0], p[1], p[3], 0.06, 1.8);
    bottomAxis(x, [1980, 1990, 2000, 2010], p[3], p[3] - 36, p[3] + 8.5);
    leftAxis(y, p[4], p[2], p[2] + 149.5, p[2] - 2);
    baseline(p[2], p[2] + 149.5, p[3]);
    var mx = d3.scaleLinear().domain([1979, 2016]).range([p[2] - 25.5, p[2] + 149.5]);
    var my = d3.scaleLinear().domain([0, d3.max(p[0])]).range([p[6], p[6] - 6]);
    lineArea(mx, my, p[0], p[1], p[6], 0.06, 1.8);
  });
})();

// --- beeswarm ---
(function() {
  var x = d3.scaleLinear().domain([2000, 5000]).range([39.3, 345.4]);
  var slot = d3.scaleLinear().domain([0, 1]).range([2349.3, 2343.3]);
  var cat = { E: "#ccc", J: yellow, U: "#000" };
  bottomAxis(x, d3.range(2000, 5500, 500), 2352.6, 2228, 2367, d3.format(","));
  swarmStacks.forEach(function(s) {
    s[1].split("").forEach(function(c, i) {
      if (c === ".") return;
      svg.append("circle").attr("cx", x(s[0])).attr("cy", slot(i)).attr("r", 2.7).attr("fill", cat[c]);
    });
  });
  baseline(0, 362, 2352.6);
  [["Europe", "#ccc", 163.8], ["Japan", yellow, 239.8], ["U.S.", "#000", 307.7]].forEach(function(l) {
    svg.append("circle").attr("cx", l[2]).attr("cy", 2239).attr("r", 5.8).attr("fill", l[1]);
    svg.append("text").attr("class", "legend").attr("x", l[2] + 10.7).attr("y", 2240).attr("dy", ".35em").text(l[0]);
  });
})();

// --- beeswarm, force ---
(function() {
  var x = d3.scaleLinear().domain([1935, 1975]).range([415.8, 728.6]);
  var nodes = [];
  birthYears.forEach(function(yr, i) {
    d3.range(maleCounts[i]).forEach(function(k) { nodes.push({ year: yr, sex: "m", x: x(yr), y: 2289.6 + (k - 2) * 8 }); });
    d3.range(femaleCounts[i]).forEach(function(k) { nodes.push({ year: yr, sex: "f", x: x(yr), y: 2289.6 + (k + 1) * 8 - 12 }); });
  });
  d3.forceSimulation(nodes)
    .force("x", d3.forceX(function(d) { return x(d.year); }).strength(1))
    .force("y", d3.forceY(2289.6).strength(0.12))
    .force("collide", d3.forceCollide(5.4))
    .stop().tick(300);
  bottomAxis(x, d3.range(1935, 1980, 5), 2352, 2228, 2361);
  svg.append("g").selectAll("circle").data(nodes).enter().append("circle")
    .attr("cx", function(d) { return d.x; }).attr("cy", function(d) { return d.y; }).attr("r", 5)
    .attr("fill", function(d) { return d.sex === "m" ? "#000" : yellow; }).attr("stroke", "#fff").attr("stroke-width", 0.5);
  [["Female", yellow, 405.6], ["Male", "#000", 482.7]].forEach(function(l) {
    svg.append("circle").attr("cx", l[2]).attr("cy", 2239).attr("r", 5.8).attr("fill", l[1]);
    svg.append("text").attr("class", "legend").attr("x", l[2] + 10.7).attr("y", 2240).attr("dy", ".35em").text(l[0]);
  });
})();

// --- circle pack, force ---
radio(10, 2439, "clump", true);
label("Group by category", 25, 2439.4);
radio(172.4, 2439, "clump", false);
label("Clump together", 186, 2439.4);
(function() {
  var r = d3.scaleSqrt().domain([0, 100]).range([0, 10]);
  var colors = [magenta, blue, yellow];
  var centers = d3.scalePoint().domain([0, 1, 2]).range([61, 300]);
  var nodes = [];
  clusterSizes.forEach(function(vals, g) {
    vals.forEach(function(v, i) {
      nodes.push({ group: g, size: v, x: centers(g) + (i % 2 ? 10 : -10), y: 2519 + (i - 5) * 8 });
    });
  });
  d3.forceSimulation(nodes)
    .force("x", d3.forceX(function(d) { return centers(d.group); }).strength(0.4))
    .force("y", d3.forceY(2519).strength(0.07))
    .force("collide", d3.forceCollide(function(d) { return r(d.size) + 0.5; }).strength(1))
    .stop().tick(400);
  svg.append("g").selectAll("circle").data(nodes).enter().append("circle")
    .attr("cx", function(d) { return d.x; }).attr("cy", function(d) { return d.y; }).attr("r", function(d) { return r(d.size); })
    .attr("fill", function(d) { return colors[d.group]; }).attr("stroke", "#000").attr("stroke-width", 1);
})();
</script>
</body>
</html>
